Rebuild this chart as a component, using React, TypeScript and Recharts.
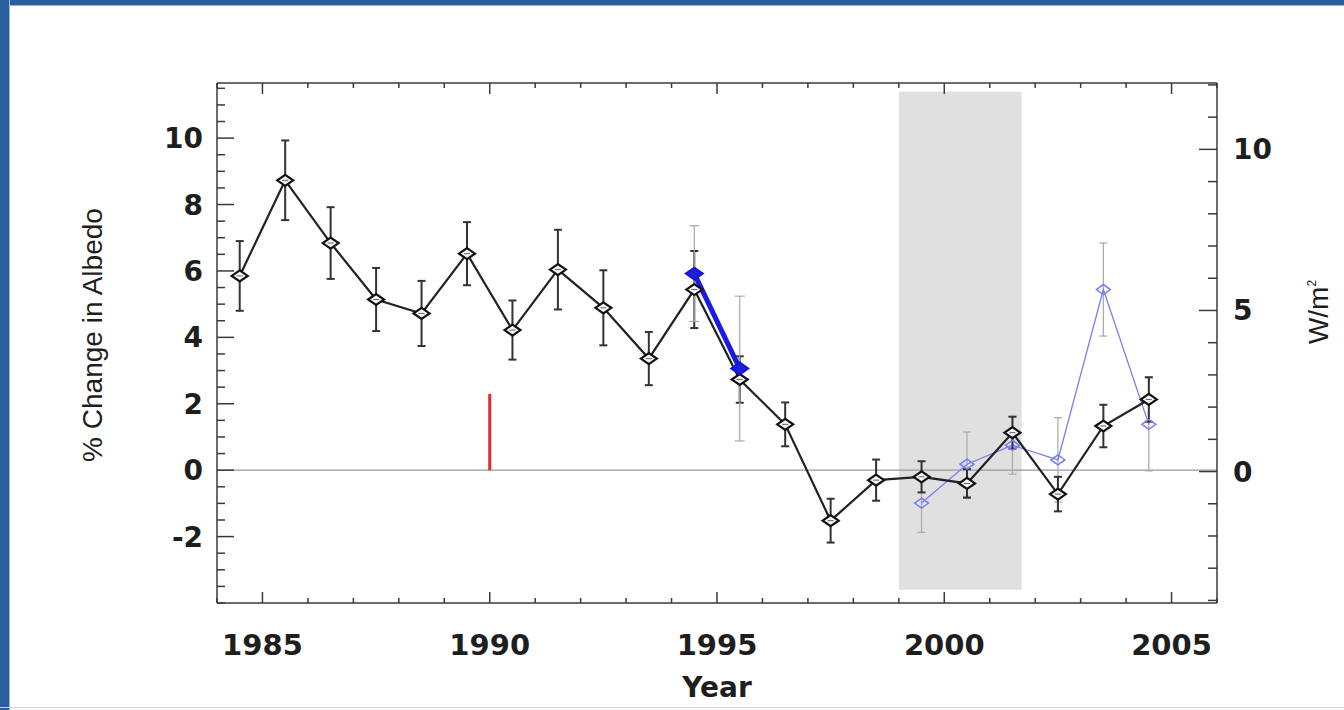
import React from 'react';
import {
  ComposedChart,
  Line,
  XAxis,
  YAxis,
  ErrorBar,
  ReferenceArea,
  ReferenceLine,
} from 'recharts';

// ---------- data ----------
const years = [
  1984.5, 1985.5, 1986.5, 1987.5, 1988.5, 1989.5, 1990.5, 1991.5, 1992.5, 1993.5, 1994.5,
  1995.5, 1996.5, 1997.5, 1998.5, 1999.5, 2000.5, 2001.5, 2002.5, 2003.5, 2004.5,
];
const albedoChange = [
  5.85, 8.73, 6.84, 5.14, 4.72, 6.52, 4.22, 6.04, 4.89, 3.36, 5.44,
  2.73, 1.38, -1.52, -0.3, -0.2, -0.4, 1.13, -0.72, 1.33, 2.13,
];
const albedoChangeErr = [
  1.05, 1.2, 1.08, 0.95, 0.98, 0.95, 0.89, 1.2, 1.13, 0.8, 1.16,
  0.7, 0.66, 0.66, 0.62, 0.47, 0.43, 0.48, 0.52, 0.64, 0.67,
];
const earlyYears = [1994.5, 1995.5];
const earlyValues = [5.92, 3.06];
const earlyErr = [1.44, 2.18];
const lateYears = [1999.5, 2000.5, 2001.5, 2002.5, 2003.5, 2004.5];
const lateValues = [-0.99, 0.18, 0.75, 0.31, 5.44, 1.38];
const lateErr = [0.88, 0.97, 0.87, 1.27, 1.4, 1.4];

const xTicks = [
  1984, 1985, 1986, 1987, 1988, 1989, 1990, 1991, 1992, 1993, 1994, 1995,
  1996, 1997, 1998, 1999, 2000, 2001, 2002, 2003, 2004, 2005, 2006,
];
const xMajorTicks = [1985, 1990, 1995, 2000, 2005];
const leftTicks = [
  -4, -3.5, -3, -2.5, -2, -1.5, -1, -0.5, 0, 0.5, 1, 1.5, 2, 2.5, 3, 3.5, 4, 4.5, 5, 5.5,
  6, 6.5, 7, 7.5, 8, 8.5, 9, 9.5, 10, 10.5, 11, 11.5,
];
const leftMajorTicks = [-2, 0, 2, 4, 6, 8, 10];
const rightTicks = [-4, -3, -2, -1, 0, 1, 2, 3, 4, 5, 6, 7, 8, 9, 10, 11, 12];
const rightMajorTicks = [0, 5, 10];

const leftDomain = [-4, 11.66];
const rightDomain = [-4.08, 12.06];
const xDomain = [1984, 2006];

const shadedWindow = { x1: 1999.0, x2: 2001.7, y1: -3.6, y2: 11.4 };
const redMarker = { year: 1990, bottom: 0, top: 2.3 };

const chartData = years.map((yr, i) => {
  const e = earlyYears.indexOf(yr);
  const l = lateYears.indexOf(yr);
  return {
    year: yr,
    albedo: albedoChange[i],
    albedoErr: albedoChangeErr[i],
    early: e >= 0 ? earlyValues[e] : null,
    earlyErr: e >= 0 ? earlyErr[e] : null,
    late: l >= 0 ? lateValues[l] : null,
    lateErr: l >= 0 ? lateErr[l] : null,
  };
});

// ---------- styles ----------
const AXIS = '#3a3a3a';
const TEXT = '#1e1e1e';
const TICK_FONT = '"DejaVu Sans", "Liberation Sans", Arial, sans-serif';
const FRAME_BLUE = '#2b5e9f';

const W = 1344;
const H = 710;
const PLOT = { left: 217, right: 1217, top: 83, bottom: 603 };
const Y_AXIS_W = 70;
const X_AXIS_H = 50;
const TOP_AXIS_H = 10;

// ---------- tick renderers ----------
const BottomTick = (props: any) => {
  const { x, y, payload } = props;
  const major = xMajorTicks.includes(payload.value);
  return (
    <g>
      <line x1={x} x2={x} y1={y} y2={y - (major ? 11 : 5)} stroke={AXIS} strokeWidth={1.5} />
      {major && (
        <text x={x} y={y + 52} textAnchor="middle" fontFamily={TICK_FONT} fontWeight="bold" fontSize={29} fill={TEXT}>
          {payload.value}
        </text>
      )}
    </g>
  );
};

const TopTick = (props: any) => {
  const { x, y, payload } = props;
  const major = xMajorTicks.includes(payload.value);
  return <line x1={x} x2={x} y1={y} y2={y + (major ? 11 : 5)} stroke={AXIS} strokeWidth={1.5} />;
};

const LeftTick = (props: any) => {
  const { x, y, payload } = props;
  const major = leftMajorTicks.includes(payload.value);
  return (
    <g>
      <line x1={x} x2={x + (major ? 17 : 8)} y1={y} y2={y} stroke={AXIS} strokeWidth={1.5} />
      {major && (
        <text x={x - 14} y={y + 10} textAnchor="end" fontFamily={TICK_FONT} fontWeight="bold" fontSize={28} fill={TEXT}>
          {payload.value}
        </text>
      )}
    </g>
  );
};

const RightTick = (props: any) => {
  const { x, y, payload } = props;
  const major = rightMajorTicks.includes(payload.value);
  return (
    <g>
      <line x1={x} x2={x - (major ? 18 : 9)} y1={y} y2={y} stroke={AXIS} strokeWidth={1.5} />
      {major && (
        <text x={x + 16} y={y + 10} textAnchor="start" fontFamily={TICK_FONT} fontWeight="bold" fontSize={28} fill={TEXT}>
          {payload.value}
        </text>
      )}
    </g>
  );
};

// ---------- dot renderers ----------
const diamond = (cx: number, cy: number, hw: number, hh: number) =>
  `M${cx - hw},${cy} L${cx},${cy - hh} L${cx + hw},${cy} L${cx},${cy + hh} Z`;

const BlackDot = (props: any) => {
  const { cx, cy, index } = props;
  if (cx == null || cy == null) return <g key={`b${index}`} />;
  return (
    <g key={`b${index}`}>
      <path d={diamond(cx, cy, 8, 5.5)} fill="#f4f4f4" stroke="#111" strokeWidth={2.2} />
      <line x1={cx - 3} x2={cx + 3} y1={cy} y2={cy} stroke="#666" strokeWidth={1} />
    </g>
  );
};

const EarlyDot = (props: any) => {
  const { cx, cy, index, value } = props;
  if (cx == null || cy == null || value == null) return <g key={`e${index}`} />;
  return <path key={`e${index}`} d={diamond(cx, cy, 8.5, 6)} fill="#1f1fd8" stroke="#1414e0" strokeWidth={2} />;
};

const LateDot = (props: any) => {
  const { cx, cy, index, value } = props;
  if (cx == null || cy == null || value == null) return <g key={`l${index}`} />;
  return <path key={`l${index}`} d={diamond(cx, cy, 7, 5)} fill="none" stroke="#7b7bf2" strokeWidth={1.5} />;
};

// ---------- axis labels ----------
const LeftLabel = () => (
  <text
    x={0}
    y={0}
    transform={`translate(${PLOT.left - 115}, 335) rotate(-90)`}
    textAnchor="middle"
    fontFamily='"Liberation Sans", Arial, sans-serif'
    fontSize={28}
    fill={TEXT}
  >
    % Change in Albedo
  </text>
);

const RightLabel = () => (
  <text
    x={0}
    y={0}
    transform={`translate(${PLOT.right + 111}, 312) rotate(-90)`}
    textAnchor="middle"
    fontFamily='"Liberation Sans", Arial, sans-serif'
    fontSize={28}
    fill={TEXT}
  >
    W/m<tspan dy={-12} fontSize={12}>2</tspan>
  </text>
);

const BottomLabel = () => (
  <text
    x={(PLOT.left + PLOT.right) / 2}
    y={697}
    textAnchor="middle"
    fontFamily={TICK_FONT}
    fontWeight="bold"
    fontSize={28}
    fill={TEXT}
  >
    Year
  </text>
);

export default function App() {
  return (
    <div
      style={{
        position: 'absolute',
        left: 0,
        top: 0,
        width: W,
        height: H,
        background: '#ffffff',
        overflow: 'hidden',
      }}
    >
      <div style={{ position: 'absolute', left: 0, top: 0, width: W, height: 5, background: FRAME_BLUE }} />
      <div style={{ position: 'absolute', left: 0, top: 5, width: W, height: 1, background: '#9fb4cf' }} />
      <div style={{ position: 'absolute', left: 0, top: 0, width: 9, height: H, background: FRAME_BLUE }} />
      <div style={{ position: 'absolute', left: 9, top: 0, width: 1, height: H, background: '#9fb4cf' }} />
      <div style={{ position: 'absolute', left: 0, top: 707, width: W, height: 1, background: '#d4d4d4' }} />
      <div style={{ position: 'absolute', left: 0, top: 0 }}>
        <ComposedChart
          width={W}
          height={H}
          data={chartData}
          margin={{
            top: PLOT.top - TOP_AXIS_H,
            left: PLOT.left - Y_AXIS_W,
            right: W - PLOT.right - Y_AXIS_W,
            bottom: H - PLOT.bottom - X_AXIS_H,
          }}
        >
          <XAxis
            xAxisId="bottom"
            dataKey="year"
            type="number"
            domain={xDomain}
            ticks={xTicks}
            interval={0}
            allowDataOverflow
            height={X_AXIS_H}
            tickSize={0}
            tickMargin={0}
            tickLine={false}
            tick={BottomTick}
            axisLine={{ stroke: AXIS, strokeWidth: 1.5 }}
            label={<BottomLabel />}
          />
          <XAxis
            xAxisId="top"
            orientation="top"
            dataKey="year"
            type="number"
            domain={xDomain}
            ticks={xTicks}
            interval={0}
            allowDataOverflow
            height={TOP_AXIS_H}
            tickSize={0}
            tickMargin={0}
            tickLine={false}
            tick={TopTick}
            axisLine={{ stroke: AXIS, strokeWidth: 1.5 }}
          />
          <YAxis
            yAxisId="left"
            type="number"
            domain={leftDomain}
            ticks={leftTicks}
            interval={0}
            allowDataOverflow
            width={Y_AXIS_W}
            tickSize={0}
            tickMargin={0}
            tickLine={false}
            tick={LeftTick}
            axisLine={{ stroke: AXIS, strokeWidth: 1.5 }}
            label={<LeftLabel />}
          />
          <YAxis
            yAxisId="right"
            orientation="right"
            type="number"
            domain={rightDomain}
            ticks={rightTicks}
            interval={0}
            allowDataOverflow
            width={Y_AXIS_W}
            tickSize={0}
            tickMargin={0}
            tickLine={false}
            tick={RightTick}
            axisLine={{ stroke: AXIS, strokeWidth: 1.5 }}
            label={<RightLabel />}
          />
          <ReferenceArea
            xAxisId="bottom"
            yAxisId="left"
            x1={shadedWindow.x1}
            x2={shadedWindow.x2}
            y1={shadedWindow.y1}
            y2={shadedWindow.y2}
            fill="#e0e0e0"
            fillOpacity={1}
            stroke="none"
          />
          <ReferenceLine xAxisId="bottom" yAxisId="left" y={0} stroke="#9a9a9a" strokeWidth={1.2} />
          <ReferenceLine
            xAxisId="bottom"
            yAxisId="left"
            segment={[
              { x: redMarker.year, y: redMarker.bottom },
              { x: redMarker.year, y: redMarker.top },
            ]}
            stroke="#e02a2a"
            strokeWidth={3}
          />
          <Line
            xAxisId="bottom"
            yAxisId="left"
            dataKey="late"
            stroke="#7b7bf2"
            strokeWidth={1.3}
            dot={LateDot}
            activeDot={false}
            connectNulls={false}
            isAnimationActive={false}
          >
            <ErrorBar dataKey="lateErr" direction="y" width={4} stroke="#a8a8a8" strokeWidth={1.2} />
          </Line>
          <Line
            xAxisId="bottom"
            yAxisId="left"
            dataKey="albedo"
            stroke="#222"
            strokeWidth={2.2}
            dot={BlackDot}
            activeDot={false}
            isAnimationActive={false}
          >
            <ErrorBar dataKey="albedoErr" direction="y" width={4} stroke="#333" strokeWidth={2} />
          </Line>
          <Line
            xAxisId="bottom"
            yAxisId="left"
            dataKey="early"
            stroke="#1a1ae4"
            strokeWidth={5}
            dot={EarlyDot}
            activeDot={false}
            connectNulls={false}
            isAnimationActive={false}
          >
            <ErrorBar dataKey="earlyErr" direction="y" width={5} stroke="#a8a8a8" strokeWidth={1.2} />
          </Line>
        </ComposedChart>
      </div>
    </div>
  );
}
